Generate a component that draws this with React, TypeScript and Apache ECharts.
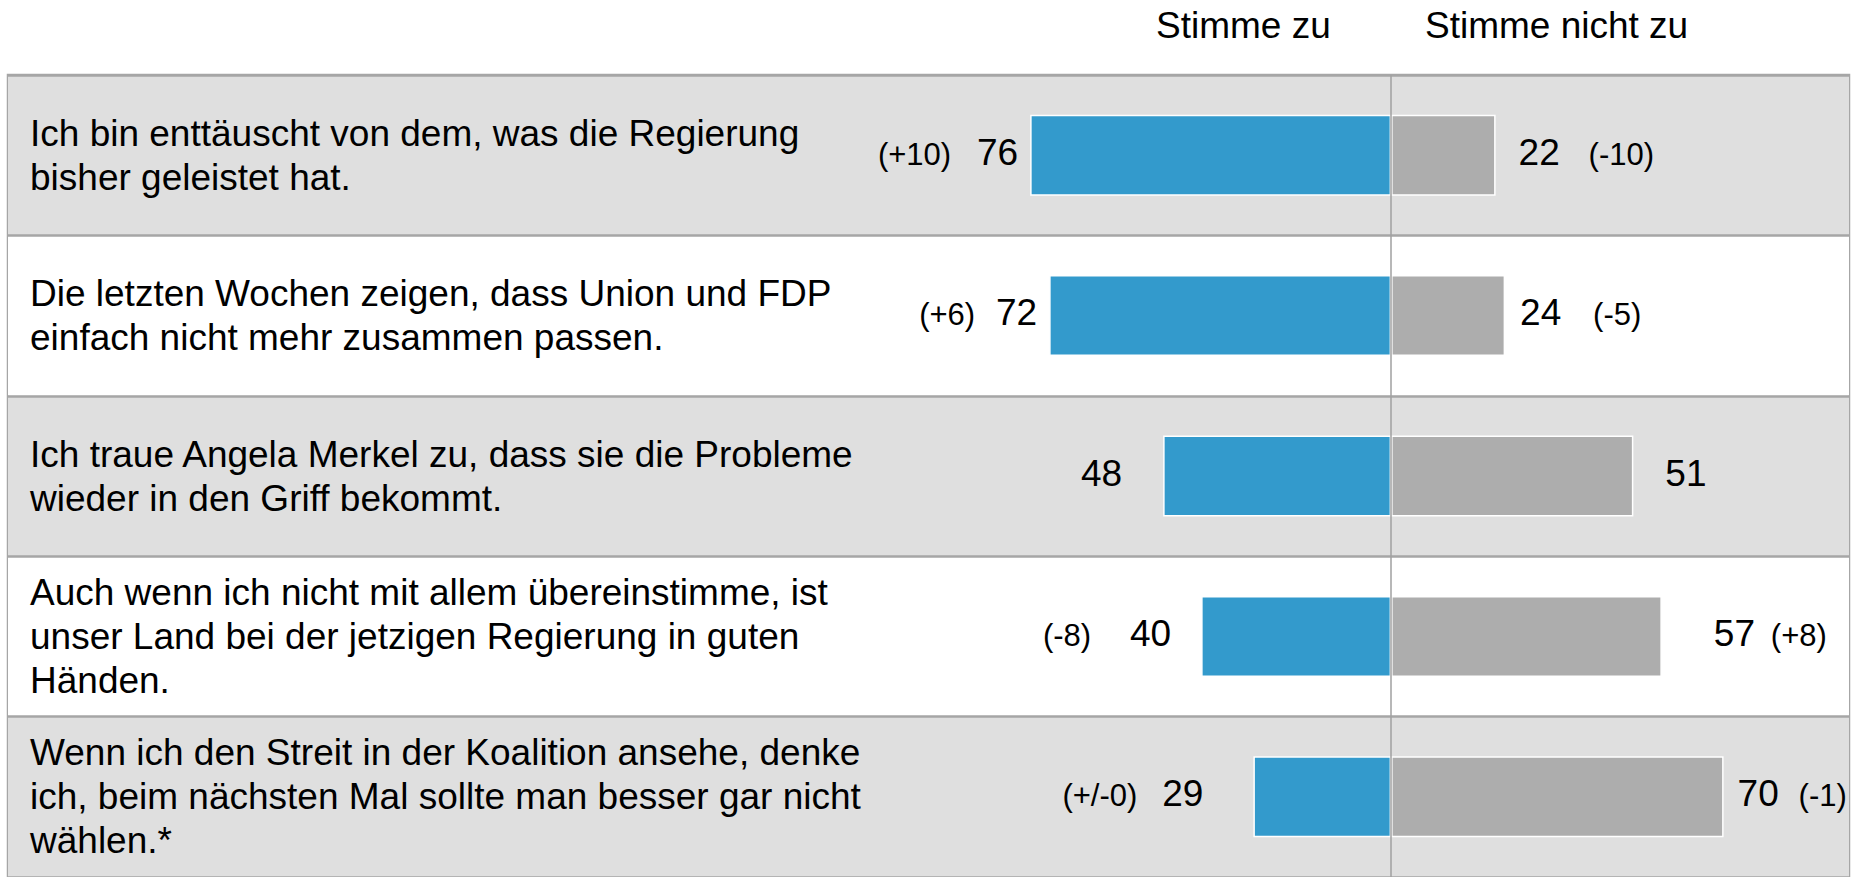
import React, { useEffect, useRef } from "react";
import * as echarts from "echarts";

// ---- data ----
const statements: string[] = [
  "Ich bin enttäuscht von dem, was die Regierung\nbisher geleistet hat.",
  "Die letzten Wochen zeigen, dass Union und FDP\neinfach nicht mehr zusammen passen.",
  "Ich traue Angela Merkel zu, dass sie die Probleme\nwieder in den Griff bekommt.",
  "Auch wenn ich nicht mit allem übereinstimme, ist\nunser Land bei der jetzigen Regierung in guten\nHänden.",
  "Wenn ich den Streit in der Koalition ansehe, denke\nich, beim nächsten Mal sollte man besser gar nicht\nwählen.*",
];
const agree: number[] = [76, 72, 48, 40, 29];
const disagree: number[] = [22, 24, 51, 57, 70];
const agreeChange: string[] = ["(+10)", "(+6)", "", "(-8)", "(+/-0)"];
const disagreeChange: string[] = ["(-10)", "(-5)", "", "(+8)", "(-1)"];
const headers: string[] = ["Stimme zu", "Stimme nicht zu"];

// ---- layout (label gaps in px, not data) ----
const agreeValueGap = [12, 12, 41, 30, 50];
const agreeChangeGap = [79, 74, 0, 110, 116];
const disagreeValueGap = [23, 15, 32, 52, 14];
const disagreeChangeGap = [93, 88, 0, 109, 75];

const FONT = "'Liberation Sans', Arial, Helvetica, sans-serif";
const BLUE = "#339acc";
const GREY = "#adadad";
const BORDER = "#a6a6a6";

export default function App() {
  const ref = useRef<HTMLDivElement>(null);

  useEffect(() => {
    document.body.style.margin = "0";
    if (!ref.current) return;
    const chart = echarts.init(ref.current, undefined, { renderer: "svg" });

    const valueLabel = {
      show: true,
      fontSize: 37,
      color: "#000",
      fontFamily: FONT,
      offset: [0, -3],
    };
    const changeLabel = {
      show: true,
      fontSize: 31,
      color: "#000",
      fontFamily: FONT,
      offset: [0, -1],
    };

    const option: any = {
      animation: false,
      textStyle: { fontFamily: FONT },
      title: [
        {
          text: headers[0],
          left: 1156,
          top: 7,
          padding: 0,
          textStyle: { fontSize: 37, fontWeight: "normal", color: "#000", fontFamily: FONT },
        },
        {
          text: headers[1],
          left: 1425,
          top: 7,
          padding: 0,
          textStyle: { fontSize: 37, fontWeight: "normal", color: "#000", fontFamily: FONT },
        },
      ],
      grid: {
        left: 8,
        right: 3,
        top: 75,
        height: 805,
        show: true,
        borderColor: BORDER,
        borderWidth: 2.5,
        backgroundColor: "transparent",
        containLabel: false,
      },
      xAxis: {
        type: "value",
        min: -291.2,
        max: 96.4,
        show: false,
      },
      yAxis: {
        type: "category",
        data: statements,
        inverse: true,
        axisLine: { show: false },
        axisTick: { show: false },
        axisLabel: {
          inside: true,
          interval: 0,
          margin: 22,
          align: "left",
          verticalAlign: "middle",
          fontSize: 37,
          lineHeight: 44,
          color: "#000",
          fontFamily: FONT,
        },
        splitLine: { show: true, lineStyle: { color: BORDER, width: 2.5 } },
        splitArea: { show: true, areaStyle: { color: ["#dfdfdf", "#ffffff"] } },
      },
      series: [
        {
          name: "Stimme zu",
          type: "bar",
          barWidth: 81,
          barGap: "-100%",
          itemStyle: { color: BLUE, borderColor: "#ffffff", borderWidth: 1.5 },
          label: {
            ...valueLabel,
            position: "left",
            formatter: (p: any) => String(Math.abs(p.value)),
          },
          data: agree.map((v, i) => ({ value: -v, label: { distance: agreeValueGap[i] } })),
          markLine: {
            silent: true,
            symbol: "none",
            label: { show: false },
            lineStyle: { color: "#a0a0a0", width: 1.5, type: "solid" },
            data: [{ xAxis: 0 }],
          },
          z: 3,
        },
        {
          name: "Veränderung zu",
          type: "bar",
          barWidth: 81,
          barGap: "-100%",
          silent: true,
          itemStyle: { color: "rgba(0,0,0,0)" },
          label: {
            ...changeLabel,
            position: "left",
            formatter: (p: any) => agreeChange[p.dataIndex],
          },
          data: agree.map((v, i) => ({ value: -v, label: { distance: agreeChangeGap[i] } })),
          z: 2,
        },
        {
          name: "Stimme nicht zu",
          type: "bar",
          barWidth: 81,
          barGap: "-100%",
          itemStyle: { color: GREY, borderColor: "#ffffff", borderWidth: 1.5 },
          label: {
            ...valueLabel,
            position: "right",
            formatter: (p: any) => String(Math.abs(p.value)),
          },
          data: disagree.map((v, i) => ({ value: v, label: { distance: disagreeValueGap[i] } })),
          z: 3,
        },
        {
          name: "Veränderung nicht zu",
          type: "bar",
          barWidth: 81,
          barGap: "-100%",
          silent: true,
          itemStyle: { color: "rgba(0,0,0,0)" },
          label: {
            ...changeLabel,
            position: "right",
            formatter: (p: any) => disagreeChange[p.dataIndex],
          },
          data: disagree.map((v, i) => ({ value: v, label: { distance: disagreeChangeGap[i] } })),
          z: 2,
        },
      ],
    };

    chart.setOption(option);
    return () => {
      chart.dispose();
    };
  }, []);

  return <div ref={ref} style={{ width: 1852, height: 877 }} />;
}
